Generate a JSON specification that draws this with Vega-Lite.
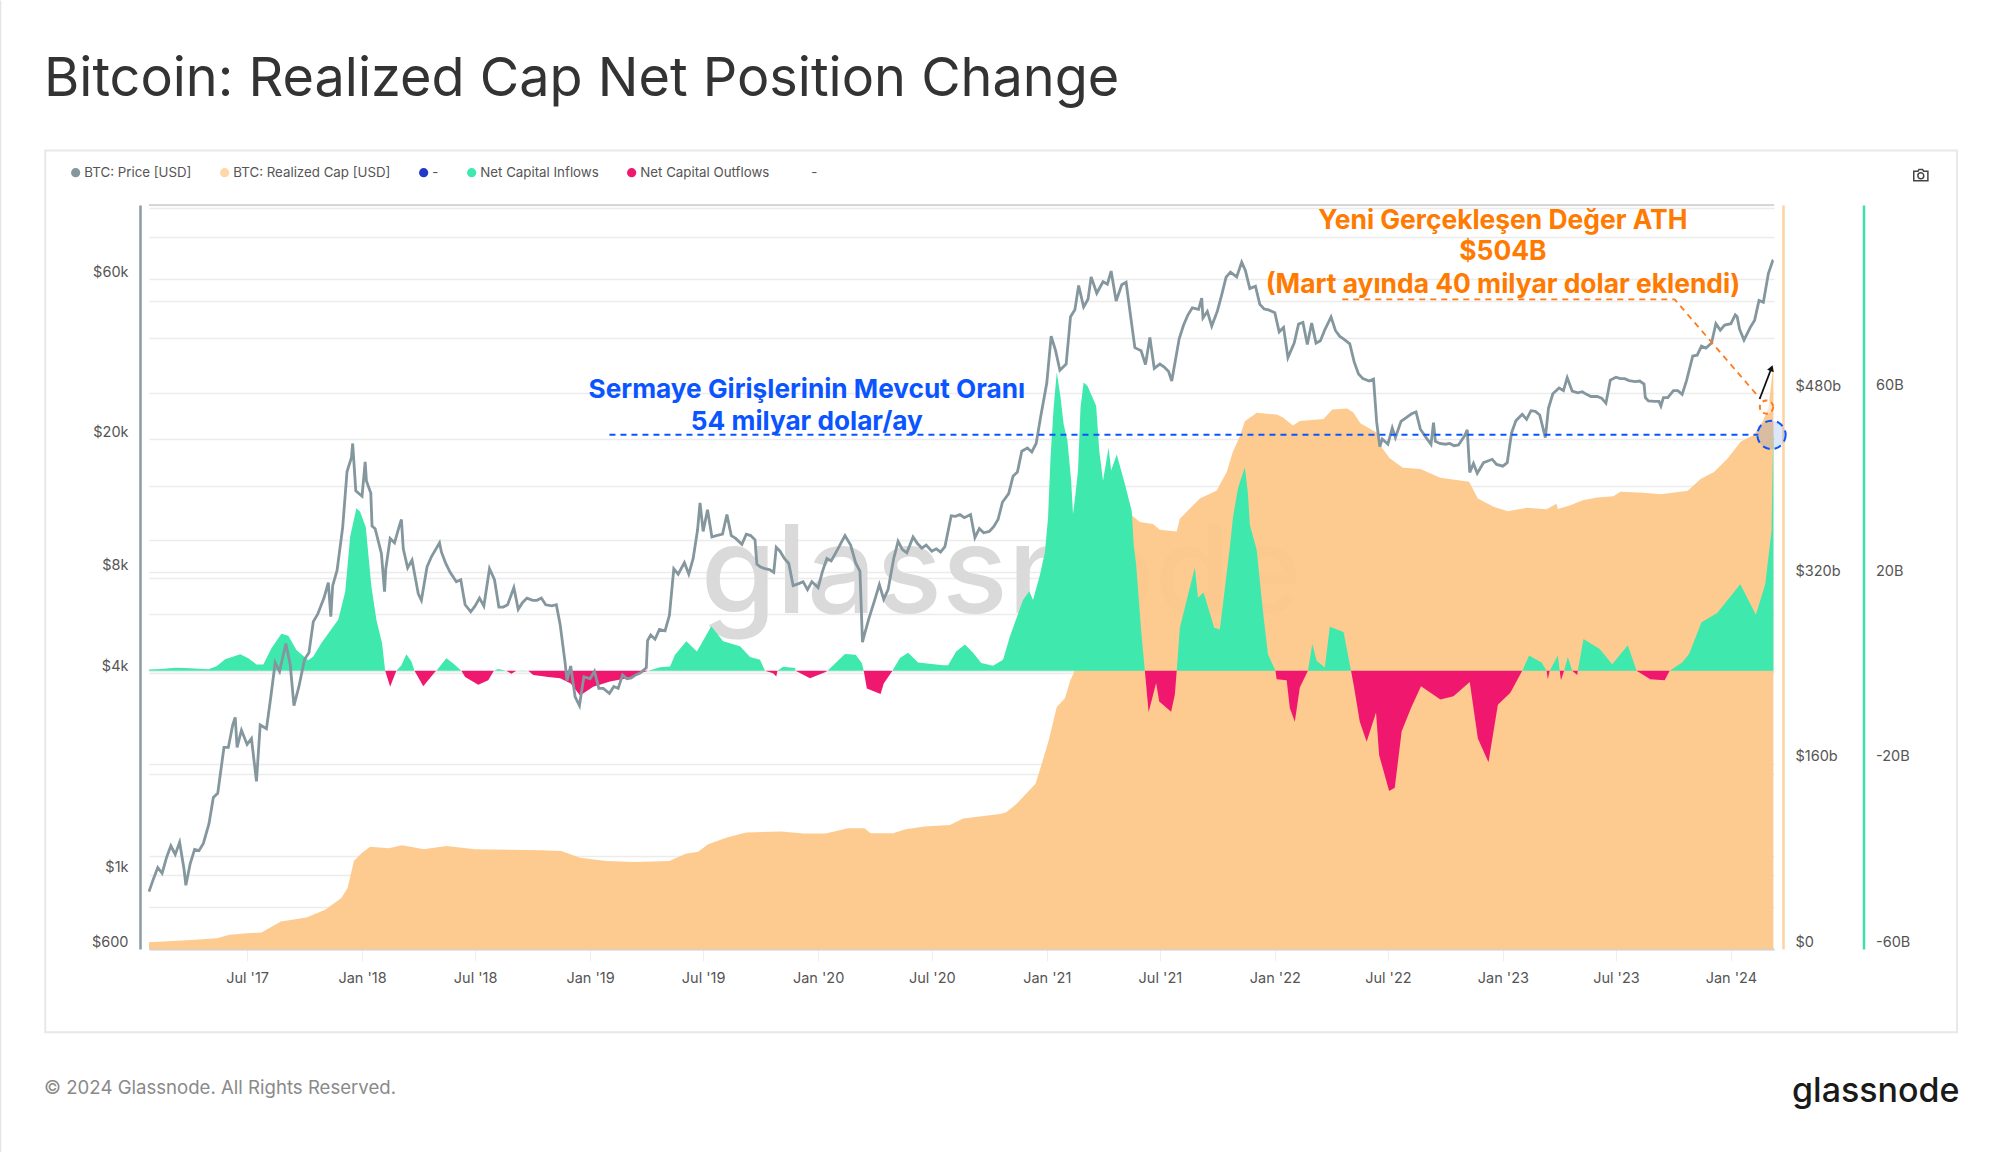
{
"$schema":"https://vega.github.io/schema/vega-lite/v6.json",
"width":1625,"height":744,"autosize":{"type":"none"},
"padding":{"left":149,"top":205,"right":226,"bottom":203},
"background":"#ffffff",
"config":{"font":"Inter","view":{"stroke":null}},
"title":{"text":"Bitcoin: Realized Cap Net Position Change","anchor":"start","frame":"group","dx":-105,"offset":0,"dy":108,"fontSize":54,"fontWeight":400,"color":"#333333","font":"Inter"},
"datasets":{
"price":[
{"d":"2017-01-25","p":890},{"d":"2017-02-01","p":970},{"d":"2017-02-08","p":1050},{"d":"2017-02-15","p":1010},{"d":"2017-02-22","p":1125},{"d":"2017-03-01","p":1220},{"d":"2017-03-08","p":1150},{"d":"2017-03-15","p":1250},{"d":"2017-03-22","p":1040},{"d":"2017-03-25","p":930},{"d":"2017-04-01","p":1080},{"d":"2017-04-08","p":1190},{"d":"2017-04-15","p":1180},{"d":"2017-04-22","p":1240},{"d":"2017-05-01","p":1420},{"d":"2017-05-08","p":1700},{"d":"2017-05-15","p":1750},{"d":"2017-05-25","p":2400},{"d":"2017-06-01","p":2400},{"d":"2017-06-08","p":2800},{"d":"2017-06-12","p":2950},{"d":"2017-06-15","p":2400},{"d":"2017-06-22","p":2700},{"d":"2017-07-01","p":2450},{"d":"2017-07-08","p":2550},{"d":"2017-07-16","p":1900},{"d":"2017-07-22","p":2800},{"d":"2017-08-01","p":2730},{"d":"2017-08-08","p":3400},{"d":"2017-08-15","p":4300},{"d":"2017-08-22","p":4050},{"d":"2017-09-01","p":4900},{"d":"2017-09-08","p":4250},{"d":"2017-09-14","p":3200},{"d":"2017-09-22","p":3650},{"d":"2017-10-01","p":4400},{"d":"2017-10-08","p":4600},{"d":"2017-10-15","p":5700},{"d":"2017-10-22","p":6000},{"d":"2017-11-01","p":6700},{"d":"2017-11-08","p":7450},{"d":"2017-11-12","p":5900},{"d":"2017-11-15","p":7300},{"d":"2017-11-22","p":8100},{"d":"2017-12-01","p":10900},{"d":"2017-12-08","p":16000},{"d":"2017-12-15","p":17600},{"d":"2017-12-17","p":19400},{"d":"2017-12-22","p":14000},
{"d":"2018-01-01","p":13500},{"d":"2018-01-06","p":17100},{"d":"2018-01-08","p":15000},{"d":"2018-01-15","p":13800},{"d":"2018-01-17","p":11000},{"d":"2018-01-22","p":10800},{"d":"2018-02-01","p":9100},{"d":"2018-02-06","p":7000},{"d":"2018-02-08","p":8200},{"d":"2018-02-15","p":10100},{"d":"2018-02-22","p":9800},{"d":"2018-03-01","p":10900},{"d":"2018-03-05","p":11500},{"d":"2018-03-08","p":9400},{"d":"2018-03-15","p":8250},{"d":"2018-03-22","p":8700},{"d":"2018-04-01","p":6900},{"d":"2018-04-06","p":6600},{"d":"2018-04-15","p":8300},{"d":"2018-04-22","p":8900},{"d":"2018-05-05","p":9800},{"d":"2018-05-08","p":9200},{"d":"2018-05-15","p":8500},{"d":"2018-05-22","p":8000},{"d":"2018-06-01","p":7500},{"d":"2018-06-08","p":7600},{"d":"2018-06-15","p":6400},{"d":"2018-06-24","p":6100},{"d":"2018-07-01","p":6350},{"d":"2018-07-08","p":6700},{"d":"2018-07-15","p":6350},{"d":"2018-07-24","p":8200},{"d":"2018-08-01","p":7600},{"d":"2018-08-08","p":6300},{"d":"2018-08-15","p":6300},{"d":"2018-08-22","p":6400},{"d":"2018-09-01","p":7200},{"d":"2018-09-08","p":6200},{"d":"2018-09-15","p":6500},{"d":"2018-09-22","p":6700},{"d":"2018-10-01","p":6600},{"d":"2018-10-08","p":6600},{"d":"2018-10-15","p":6700},{"d":"2018-10-22","p":6400},{"d":"2018-11-01","p":6350},{"d":"2018-11-08","p":6400},{"d":"2018-11-14","p":5600},{"d":"2018-11-22","p":4300},{"d":"2018-11-25","p":3800},{"d":"2018-12-01","p":4200},{"d":"2018-12-08","p":3400},{"d":"2018-12-15","p":3200},{"d":"2018-12-22","p":3900},
{"d":"2019-01-01","p":3850},{"d":"2019-01-08","p":4050},{"d":"2019-01-15","p":3600},{"d":"2019-01-22","p":3600},{"d":"2019-02-01","p":3480},{"d":"2019-02-08","p":3650},{"d":"2019-02-15","p":3600},{"d":"2019-02-22","p":3950},{"d":"2019-03-01","p":3850},{"d":"2019-03-08","p":3870},{"d":"2019-03-15","p":3950},{"d":"2019-03-22","p":4000},{"d":"2019-04-01","p":4150},{"d":"2019-04-03","p":5000},{"d":"2019-04-08","p":5200},{"d":"2019-04-15","p":5050},{"d":"2019-04-22","p":5400},{"d":"2019-05-01","p":5350},{"d":"2019-05-08","p":5950},{"d":"2019-05-15","p":8200},{"d":"2019-05-22","p":7900},{"d":"2019-06-01","p":8550},{"d":"2019-06-08","p":7900},{"d":"2019-06-15","p":8800},{"d":"2019-06-22","p":10700},{"d":"2019-06-26","p":12900},{"d":"2019-07-01","p":10600},{"d":"2019-07-08","p":12300},{"d":"2019-07-15","p":10200},{"d":"2019-07-22","p":10300},{"d":"2019-08-01","p":10400},{"d":"2019-08-08","p":11900},{"d":"2019-08-15","p":10300},{"d":"2019-08-22","p":10100},{"d":"2019-09-01","p":9700},{"d":"2019-09-08","p":10400},{"d":"2019-09-15","p":10300},{"d":"2019-09-22","p":10000},{"d":"2019-09-25","p":8450},{"d":"2019-10-01","p":8300},{"d":"2019-10-08","p":8200},{"d":"2019-10-15","p":8150},{"d":"2019-10-22","p":8000},{"d":"2019-10-26","p":9500},{"d":"2019-11-01","p":9250},{"d":"2019-11-08","p":8800},{"d":"2019-11-15","p":8500},{"d":"2019-11-22","p":7300},{"d":"2019-12-01","p":7400},{"d":"2019-12-08","p":7500},{"d":"2019-12-15","p":7100},{"d":"2019-12-22","p":7500},
{"d":"2020-01-01","p":7200},{"d":"2020-01-08","p":8050},{"d":"2020-01-15","p":8800},{"d":"2020-01-22","p":8650},{"d":"2020-02-01","p":9350},{"d":"2020-02-08","p":9900},{"d":"2020-02-13","p":10300},{"d":"2020-02-22","p":9650},{"d":"2020-03-01","p":8550},{"d":"2020-03-08","p":8050},{"d":"2020-03-12","p":4950},{"d":"2020-03-15","p":5200},{"d":"2020-03-22","p":5800},{"d":"2020-04-01","p":6650},{"d":"2020-04-08","p":7350},{"d":"2020-04-15","p":6650},{"d":"2020-04-22","p":7100},{"d":"2020-05-01","p":8800},{"d":"2020-05-08","p":9900},{"d":"2020-05-15","p":9350},{"d":"2020-05-22","p":9150},{"d":"2020-06-01","p":10200},{"d":"2020-06-08","p":9750},{"d":"2020-06-15","p":9450},{"d":"2020-06-22","p":9650},{"d":"2020-07-01","p":9250},{"d":"2020-07-08","p":9400},{"d":"2020-07-15","p":9200},{"d":"2020-07-22","p":9550},{"d":"2020-08-01","p":11800},{"d":"2020-08-08","p":11750},{"d":"2020-08-15","p":11900},{"d":"2020-08-22","p":11650},{"d":"2020-09-01","p":11900},{"d":"2020-09-08","p":10150},{"d":"2020-09-15","p":10800},{"d":"2020-09-22","p":10500},{"d":"2020-10-01","p":10600},{"d":"2020-10-08","p":10950},{"d":"2020-10-15","p":11500},{"d":"2020-10-22","p":12950},{"d":"2020-11-01","p":13750},{"d":"2020-11-08","p":15500},{"d":"2020-11-15","p":15950},{"d":"2020-11-22","p":18400},{"d":"2020-12-01","p":18800},{"d":"2020-12-08","p":18300},{"d":"2020-12-15","p":19400},{"d":"2020-12-22","p":23200},
{"d":"2021-01-01","p":29400},{"d":"2021-01-08","p":40600},{"d":"2021-01-15","p":36800},{"d":"2021-01-22","p":32100},{"d":"2021-02-01","p":33500},{"d":"2021-02-08","p":46400},{"d":"2021-02-15","p":48700},{"d":"2021-02-21","p":57500},{"d":"2021-03-01","p":49600},{"d":"2021-03-08","p":52300},{"d":"2021-03-13","p":61000},{"d":"2021-03-22","p":54500},{"d":"2021-04-01","p":59000},{"d":"2021-04-08","p":58000},{"d":"2021-04-14","p":63500},{"d":"2021-04-22","p":51700},{"d":"2021-05-01","p":57800},{"d":"2021-05-08","p":58800},{"d":"2021-05-15","p":46800},{"d":"2021-05-22","p":37500},{"d":"2021-06-01","p":36700},{"d":"2021-06-08","p":33400},{"d":"2021-06-15","p":40200},{"d":"2021-06-22","p":32500},{"d":"2021-07-01","p":33500},{"d":"2021-07-08","p":32800},{"d":"2021-07-15","p":31800},{"d":"2021-07-20","p":29800},{"d":"2021-08-01","p":39900},{"d":"2021-08-08","p":43800},{"d":"2021-08-15","p":47000},{"d":"2021-08-22","p":49300},{"d":"2021-09-01","p":48800},{"d":"2021-09-06","p":52700},{"d":"2021-09-08","p":46000},{"d":"2021-09-15","p":48100},{"d":"2021-09-22","p":43500},{"d":"2021-10-01","p":48200},{"d":"2021-10-08","p":53900},{"d":"2021-10-15","p":60900},{"d":"2021-10-22","p":63000},{"d":"2021-11-01","p":61000},{"d":"2021-11-09","p":67500},{"d":"2021-11-15","p":63600},{"d":"2021-11-22","p":56300},{"d":"2021-12-01","p":57200},{"d":"2021-12-08","p":50500},{"d":"2021-12-15","p":48900},{"d":"2021-12-22","p":48600},
{"d":"2022-01-01","p":47700},{"d":"2022-01-08","p":41800},{"d":"2022-01-15","p":43100},{"d":"2022-01-22","p":35000},{"d":"2022-02-01","p":38700},{"d":"2022-02-08","p":44100},{"d":"2022-02-15","p":44600},{"d":"2022-02-22","p":38300},{"d":"2022-03-01","p":44400},{"d":"2022-03-08","p":38700},{"d":"2022-03-15","p":39300},{"d":"2022-03-22","p":42400},{"d":"2022-04-01","p":46300},{"d":"2022-04-08","p":42200},{"d":"2022-04-15","p":40500},{"d":"2022-04-22","p":39700},{"d":"2022-05-01","p":38500},{"d":"2022-05-08","p":34000},{"d":"2022-05-15","p":31300},{"d":"2022-05-22","p":30300},{"d":"2022-06-01","p":29800},{"d":"2022-06-08","p":30200},{"d":"2022-06-13","p":22500},{"d":"2022-06-18","p":19000},{"d":"2022-06-22","p":20000},{"d":"2022-07-01","p":19300},{"d":"2022-07-08","p":21600},{"d":"2022-07-13","p":20200},{"d":"2022-07-22","p":22600},{"d":"2022-08-01","p":23300},{"d":"2022-08-08","p":23800},{"d":"2022-08-15","p":24100},{"d":"2022-08-22","p":21400},{"d":"2022-09-01","p":20100},{"d":"2022-09-08","p":19300},{"d":"2022-09-12","p":22400},{"d":"2022-09-15","p":19700},{"d":"2022-09-22","p":19400},{"d":"2022-10-01","p":19300},{"d":"2022-10-08","p":19400},{"d":"2022-10-15","p":19100},{"d":"2022-10-22","p":19200},{"d":"2022-11-01","p":20500},{"d":"2022-11-05","p":21300},{"d":"2022-11-09","p":15900},{"d":"2022-11-15","p":16900},{"d":"2022-11-21","p":15800},{"d":"2022-12-01","p":17000},{"d":"2022-12-08","p":17200},{"d":"2022-12-15","p":17400},{"d":"2022-12-22","p":16800},
{"d":"2023-01-01","p":16600},{"d":"2023-01-08","p":17000},{"d":"2023-01-15","p":20900},{"d":"2023-01-22","p":22700},{"d":"2023-02-01","p":23700},{"d":"2023-02-08","p":22900},{"d":"2023-02-15","p":24300},{"d":"2023-02-22","p":24200},{"d":"2023-03-01","p":23600},{"d":"2023-03-10","p":20200},{"d":"2023-03-15","p":24700},{"d":"2023-03-22","p":27300},{"d":"2023-04-01","p":28400},{"d":"2023-04-08","p":27900},{"d":"2023-04-14","p":30500},{"d":"2023-04-22","p":27800},{"d":"2023-05-01","p":27500},{"d":"2023-05-08","p":27700},{"d":"2023-05-15","p":27200},{"d":"2023-05-22","p":26800},{"d":"2023-06-01","p":26800},{"d":"2023-06-08","p":26500},{"d":"2023-06-15","p":25600},{"d":"2023-06-22","p":30000},{"d":"2023-07-01","p":30600},{"d":"2023-07-08","p":30300},{"d":"2023-07-15","p":30300},{"d":"2023-07-22","p":29900},{"d":"2023-08-01","p":29700},{"d":"2023-08-08","p":29800},{"d":"2023-08-15","p":29200},{"d":"2023-08-17","p":26600},{"d":"2023-08-22","p":26000},{"d":"2023-09-01","p":25900},{"d":"2023-09-08","p":25900},{"d":"2023-09-11","p":25100},{"d":"2023-09-15","p":26600},{"d":"2023-09-22","p":26600},{"d":"2023-10-01","p":27900},{"d":"2023-10-08","p":27900},{"d":"2023-10-15","p":27200},{"d":"2023-10-22","p":29900},{"d":"2023-11-01","p":35400},{"d":"2023-11-08","p":35600},{"d":"2023-11-15","p":37900},{"d":"2023-11-22","p":37400},{"d":"2023-12-01","p":38700},{"d":"2023-12-08","p":44200},{"d":"2023-12-15","p":42300},{"d":"2023-12-22","p":43800},
{"d":"2024-01-01","p":44200},{"d":"2024-01-08","p":47000},{"d":"2024-01-11","p":46400},{"d":"2024-01-15","p":42500},{"d":"2024-01-22","p":39500},{"d":"2024-02-01","p":43100},{"d":"2024-02-08","p":45300},{"d":"2024-02-15","p":51900},{"d":"2024-02-22","p":51200},{"d":"2024-03-01","p":62400},{"d":"2024-03-08","p":68200},{"d":"2024-03-09","p":68400}
],
"cap":[
{"d":"2017-01-25","c":5.8},{"d":"2017-04-03","c":7.8},{"d":"2017-05-14","c":9.2},{"d":"2017-06-03","c":12.2},{"d":"2017-07-01","c":13.6},{"d":"2017-07-24","c":14.2},{"d":"2017-08-24","c":23.8},{"d":"2017-10-04","c":27.2},{"d":"2017-11-03","c":33.9},{"d":"2017-11-29","c":44.1},{"d":"2017-12-09","c":52.8},{"d":"2017-12-19","c":76},{"d":"2018-01-01","c":83.2},{"d":"2018-01-14","c":88.4},{"d":"2018-02-03","c":87.5},{"d":"2018-02-13","c":87},{"d":"2018-03-06","c":89.6},{"d":"2018-04-10","c":86.1},{"d":"2018-05-16","c":89},{"d":"2018-07-01","c":86.1},{"d":"2018-10-16","c":85.2},{"d":"2018-11-16","c":84.6},{"d":"2018-12-16","c":78.8},{"d":"2019-01-27","c":76},{"d":"2019-03-14","c":75.1},{"d":"2019-05-08","c":76},{"d":"2019-06-03","c":82.3},{"d":"2019-06-23","c":84},{"d":"2019-07-09","c":90.4},{"d":"2019-08-08","c":96.2},{"d":"2019-09-08","c":100.6},{"d":"2019-11-03","c":101.4},{"d":"2019-12-09","c":99.7},{"d":"2020-01-13","c":99.7},{"d":"2020-02-18","c":104.3},{"d":"2020-03-15","c":104.3},{"d":"2020-03-25","c":100},{"d":"2020-04-30","c":100},{"d":"2020-05-20","c":103.5},{"d":"2020-06-19","c":105.8},{"d":"2020-07-30","c":107},{"d":"2020-08-20","c":112.8},{"d":"2020-10-18","c":116.5},{"d":"2020-10-28","c":118},{"d":"2020-11-13","c":125},{"d":"2020-12-14","c":142.6},{"d":"2020-12-24","c":160},{"d":"2021-01-04","c":180},{"d":"2021-01-17","c":209},{"d":"2021-01-30","c":216.5},{"d":"2021-02-08","c":232.5},{"d":"2021-02-13","c":238},{"d":"2021-03-05","c":290},{"d":"2021-03-25","c":330},{"d":"2021-04-20","c":360},{"d":"2021-05-17","c":374.5},{"d":"2021-05-30","c":368.7},{"d":"2021-06-20","c":367},{"d":"2021-07-01","c":362},{"d":"2021-07-28","c":360.6},{"d":"2021-08-02","c":371.6},{"d":"2021-09-03","c":389},{"d":"2021-09-30","c":396},{"d":"2021-10-16","c":412},{"d":"2021-10-26","c":429.6},{"d":"2021-11-06","c":442.6},{"d":"2021-11-14","c":455.7},{"d":"2021-12-03","c":463},{"d":"2022-01-04","c":461.5},{"d":"2022-01-14","c":459},{"d":"2022-01-30","c":452},{"d":"2022-02-10","c":456},{"d":"2022-03-20","c":457.7},{"d":"2022-04-03","c":465.8},{"d":"2022-04-27","c":466.7},{"d":"2022-05-07","c":463},{"d":"2022-05-18","c":454},{"d":"2022-06-14","c":445.5},{"d":"2022-06-22","c":432.5},{"d":"2022-07-04","c":423.8},{"d":"2022-07-25","c":415.7},{"d":"2022-08-22","c":414.5},{"d":"2022-09-23","c":407},{"d":"2022-11-08","c":403.5},{"d":"2022-11-22","c":389},{"d":"2022-12-18","c":381.8},{"d":"2023-01-09","c":378},{"d":"2023-02-08","c":381},{"d":"2023-03-12","c":379.7},{"d":"2023-03-28","c":384.6},{"d":"2023-03-30","c":380},{"d":"2023-04-18","c":383},{"d":"2023-05-09","c":387.5},{"d":"2023-06-01","c":389.9},{"d":"2023-06-27","c":391},{"d":"2023-07-08","c":394.8},{"d":"2023-08-14","c":394},{"d":"2023-09-11","c":392.8},{"d":"2023-10-24","c":395.7},{"d":"2023-11-14","c":406},{"d":"2023-12-05","c":412},{"d":"2023-12-27","c":423.8},{"d":"2024-01-17","c":438.3},{"d":"2024-02-07","c":444},{"d":"2024-02-21","c":455.7},{"d":"2024-03-01","c":467},{"d":"2024-03-09","c":504}
],
"flow":[
{"d":"2017-01-25","i":0.3,"o":0},{"d":"2017-02-14","i":0.4,"o":0},{"d":"2017-03-08","i":0.65,"o":0},{"d":"2017-03-24","i":0.6,"o":0},{"d":"2017-04-30","i":0.35,"o":0},{"d":"2017-05-13","i":1,"o":0},{"d":"2017-05-27","i":2.5,"o":0},{"d":"2017-06-20","i":3.6,"o":0},{"d":"2017-07-03","i":2.7,"o":0},{"d":"2017-07-16","i":1.4,"o":0},{"d":"2017-07-27","i":1.4,"o":0},{"d":"2017-08-09","i":4.9,"o":0},{"d":"2017-08-25","i":8,"o":0},{"d":"2017-09-05","i":7.6,"o":0},{"d":"2017-09-18","i":4.5,"o":0},{"d":"2017-10-07","i":2.3,"o":0},{"d":"2017-10-15","i":3.1,"o":0},{"d":"2017-10-28","i":6,"o":0},{"d":"2017-11-24","i":11.1,"o":0},{"d":"2017-12-05","i":17,"o":0},{"d":"2017-12-13","i":29,"o":0},{"d":"2017-12-23","i":35.1,"o":0},{"d":"2017-12-29","i":34.3,"o":0},{"d":"2018-01-07","i":31,"o":0},{"d":"2018-01-16","i":18.2,"o":0},{"d":"2018-01-24","i":11,"o":0},{"d":"2018-02-02","i":6,"o":0},{"d":"2018-02-07","i":0,"o":0},{"d":"2018-02-15","i":0,"o":-3.4},{"d":"2018-02-23","i":0,"o":-0.6},{"d":"2018-02-25","i":0,"o":0},{"d":"2018-03-05","i":1.2,"o":0},{"d":"2018-03-13","i":3.6,"o":0},{"d":"2018-03-21","i":2,"o":0},{"d":"2018-03-26","i":0,"o":0},{"d":"2018-04-09","i":0,"o":-3.3},{"d":"2018-04-28","i":0,"o":-0.2},{"d":"2018-04-30","i":0,"o":0},{"d":"2018-05-16","i":2.7,"o":0},{"d":"2018-05-27","i":1.6,"o":0},{"d":"2018-06-09","i":0,"o":0},{"d":"2018-06-15","i":0,"o":-1.3},{"d":"2018-07-06","i":0,"o":-3},{"d":"2018-07-22","i":0,"o":-2},{"d":"2018-07-31","i":0,"o":0},{"d":"2018-08-07","i":0.4,"o":0},{"d":"2018-08-20","i":0,"o":0},{"d":"2018-08-28","i":0,"o":-0.6},{"d":"2018-09-05","i":0,"o":0},{"d":"2018-09-15","i":0.1,"o":0},{"d":"2018-09-24","i":0,"o":0},{"d":"2018-10-02","i":0,"o":-0.9},{"d":"2018-10-26","i":0,"o":-1.3},{"d":"2018-11-14","i":0,"o":-1.6},{"d":"2018-12-01","i":0,"o":-2.7},{"d":"2018-12-16","i":0,"o":-5.3},{"d":"2019-01-06","i":0,"o":-3.4},{"d":"2019-02-02","i":0,"o":-2.3},{"d":"2019-03-01","i":0,"o":-1.6},{"d":"2019-03-27","i":0,"o":-0.3},{"d":"2019-04-04","i":0,"o":0},{"d":"2019-04-23","i":0.8,"o":0},{"d":"2019-05-09","i":0.95,"o":0},{"d":"2019-05-17","i":3.5,"o":0},{"d":"2019-06-04","i":6.4,"o":0},{"d":"2019-06-21","i":4.2,"o":0},{"d":"2019-07-14","i":9.6,"o":0},{"d":"2019-08-02","i":6.4,"o":0},{"d":"2019-08-29","i":5.3,"o":0},{"d":"2019-09-14","i":3,"o":0},{"d":"2019-09-30","i":2.4,"o":0},{"d":"2019-10-08","i":0,"o":0},{"d":"2019-10-21","i":0,"o":-0.5},{"d":"2019-10-26","i":0,"o":-1.2},{"d":"2019-10-28","i":0,"o":0},{"d":"2019-11-06","i":0.9,"o":0},{"d":"2019-11-25","i":0.6,"o":0},{"d":"2019-11-26","i":0,"o":0},{"d":"2019-12-19","i":0,"o":-1.6},{"d":"2020-01-12","i":0,"o":-0.3},{"d":"2020-01-16","i":0,"o":0},{"d":"2020-02-13","i":3.65,"o":0},{"d":"2020-03-01","i":3.5,"o":0},{"d":"2020-03-11","i":1.7,"o":0},{"d":"2020-03-14","i":0,"o":0},{"d":"2020-03-19","i":0,"o":-3.8},{"d":"2020-04-10","i":0,"o":-5},{"d":"2020-04-15","i":0,"o":-2.7},{"d":"2020-04-29","i":0,"o":0},{"d":"2020-05-11","i":2.8,"o":0},{"d":"2020-05-24","i":3.9,"o":0},{"d":"2020-06-09","i":1.8,"o":0},{"d":"2020-07-19","i":1.2,"o":0},{"d":"2020-07-27","i":1.2,"o":0},{"d":"2020-08-09","i":4.2,"o":0},{"d":"2020-08-23","i":5.7,"o":0},{"d":"2020-09-05","i":3.9,"o":0},{"d":"2020-09-18","i":1.7,"o":0},{"d":"2020-10-07","i":1.1,"o":0},{"d":"2020-10-23","i":2.4,"o":0},{"d":"2020-11-03","i":7.4,"o":0},{"d":"2020-11-24","i":15.3,"o":0},{"d":"2020-12-04","i":17.2,"o":0},{"d":"2020-12-10","i":15.3,"o":0},{"d":"2020-12-21","i":20.7,"o":0},{"d":"2020-12-29","i":25.6,"o":0},{"d":"2021-01-03","i":33,"o":0},{"d":"2021-01-07","i":46,"o":0},{"d":"2021-01-12","i":56.8,"o":0},{"d":"2021-01-17","i":64.4,"o":0},{"d":"2021-01-23","i":59,"o":0},{"d":"2021-01-28","i":53.2,"o":0},{"d":"2021-02-03","i":49.7,"o":0},{"d":"2021-02-09","i":41,"o":0},{"d":"2021-02-12","i":33.8,"o":0},{"d":"2021-02-16","i":38.2,"o":0},{"d":"2021-02-20","i":43.2,"o":0},{"d":"2021-02-24","i":56.8,"o":0},{"d":"2021-03-01","i":62.2,"o":0},{"d":"2021-03-07","i":61.5,"o":0},{"d":"2021-03-21","i":57.2,"o":0},{"d":"2021-03-26","i":47.5,"o":0},{"d":"2021-04-01","i":41,"o":0},{"d":"2021-04-10","i":48.2,"o":0},{"d":"2021-04-14","i":43.2,"o":0},{"d":"2021-04-23","i":46.7,"o":0},{"d":"2021-05-06","i":40.3,"o":0},{"d":"2021-05-17","i":34.5,"o":0},{"d":"2021-05-20","i":27.3,"o":0},{"d":"2021-05-24","i":23,"o":0},{"d":"2021-06-01","i":8.7,"o":0},{"d":"2021-06-07","i":0,"o":0},{"d":"2021-06-13","i":0,"o":-8.9},{"d":"2021-06-25","i":0,"o":-2.6},{"d":"2021-06-30","i":0,"o":-6.6},{"d":"2021-07-19","i":0,"o":-8.8},{"d":"2021-07-25","i":0,"o":-5.1},{"d":"2021-07-28","i":0,"o":0},{"d":"2021-08-02","i":9.3,"o":0},{"d":"2021-08-26","i":22.3,"o":0},{"d":"2021-08-31","i":15.8,"o":0},{"d":"2021-09-09","i":16.9,"o":0},{"d":"2021-09-26","i":9.3,"o":0},{"d":"2021-10-05","i":8.9,"o":0},{"d":"2021-10-21","i":26.6,"o":0},{"d":"2021-10-26","i":33.1,"o":0},{"d":"2021-11-03","i":39.4,"o":0},{"d":"2021-11-14","i":43.9,"o":0},{"d":"2021-11-19","i":38.2,"o":0},{"d":"2021-11-22","i":31.5,"o":0},{"d":"2021-12-03","i":26.1,"o":0},{"d":"2021-12-13","i":12.8,"o":0},{"d":"2021-12-21","i":3.6,"o":0},{"d":"2022-01-02","i":0,"o":0},{"d":"2022-01-04","i":0,"o":-1.8},{"d":"2022-01-20","i":0,"o":-2},{"d":"2022-01-25","i":0,"o":-8},{"d":"2022-02-02","i":0,"o":-11},{"d":"2022-02-10","i":0,"o":-3.6},{"d":"2022-02-23","i":0,"o":0},{"d":"2022-03-02","i":5.8,"o":0},{"d":"2022-03-09","i":2.2,"o":0},{"d":"2022-03-22","i":0.7,"o":0},{"d":"2022-03-30","i":9.5,"o":0},{"d":"2022-04-21","i":8.4,"o":0},{"d":"2022-05-03","i":0,"o":0},{"d":"2022-05-08","i":0,"o":-3.65},{"d":"2022-05-17","i":0,"o":-11},{"d":"2022-05-28","i":0,"o":-15.3},{"d":"2022-06-12","i":0,"o":-9},{"d":"2022-06-17","i":0,"o":-18.2},{"d":"2022-07-03","i":0,"o":-25.9},{"d":"2022-07-12","i":0,"o":-25.2},{"d":"2022-07-23","i":0,"o":-13.1},{"d":"2022-08-07","i":0,"o":-8},{"d":"2022-08-23","i":0,"o":-3.3},{"d":"2022-09-23","i":0,"o":-6.2},{"d":"2022-10-14","i":0,"o":-5.5},{"d":"2022-11-09","i":0,"o":-2.4},{"d":"2022-11-22","i":0,"o":-14.6},{"d":"2022-12-09","i":0,"o":-19.7},{"d":"2022-12-24","i":0,"o":-7.3},{"d":"2023-01-13","i":0,"o":-4.7},{"d":"2023-02-01","i":0,"o":0},{"d":"2023-02-12","i":3.3,"o":0},{"d":"2023-03-04","i":1.8,"o":0},{"d":"2023-03-12","i":0,"o":0},{"d":"2023-03-14","i":0,"o":-1.8},{"d":"2023-03-17","i":0,"o":0},{"d":"2023-03-30","i":3.3,"o":0},{"d":"2023-04-02","i":0,"o":0},{"d":"2023-04-04","i":0,"o":-2},{"d":"2023-04-09","i":0,"o":0},{"d":"2023-04-15","i":3,"o":0},{"d":"2023-04-22","i":0,"o":0},{"d":"2023-04-30","i":0,"o":-0.9},{"d":"2023-05-01","i":0,"o":0},{"d":"2023-05-10","i":6.9,"o":0},{"d":"2023-06-05","i":4.7,"o":0},{"d":"2023-06-25","i":1.45,"o":0},{"d":"2023-07-20","i":5.5,"o":0},{"d":"2023-08-03","i":0,"o":0},{"d":"2023-08-25","i":0,"o":-1.8},{"d":"2023-09-17","i":0,"o":-2},{"d":"2023-09-25","i":0,"o":0},{"d":"2023-10-15","i":1.8,"o":0},{"d":"2023-10-26","i":3.65,"o":0},{"d":"2023-11-15","i":10.5,"o":0},{"d":"2023-12-10","i":12.5,"o":0},{"d":"2024-01-16","i":18.7,"o":0},{"d":"2024-02-10","i":12.1,"o":0},{"d":"2024-02-25","i":18.7,"o":0},{"d":"2024-03-06","i":30.2,"o":0},{"d":"2024-03-09","i":53,"o":0}
]
},
"layer":[
{"data":{"values":[{"d":"2019-06-27","v":290,"t":"glassnode"}]},
 "mark":{"type":"text","align":"left","baseline":"alphabetic","fontSize":122,"fontWeight":500,"color":"#dadada","font":"Inter"},
 "encoding":{"x":{"field":"d","type":"temporal","title":null,
   "scale":{"domain":["2017-01-25","2024-03-10"],"nice":false},
   "axis":{"format":"%b '%y","tickCount":{"interval":"month","step":6},"grid":false,"labelFontSize":14.5,"labelColor":"#555555","labelPadding":10,"labelOverlap":false,"labelFlush":false,"tickSize":12,"tickColor":"#eeeeee","tickWidth":1,"domainColor":"#d3d3d3","domainWidth":2,"title":null}},
  "y":{"field":"v","type":"quantitative","scale":{"domain":[0,642.5],"nice":false,"zero":false},"axis":null},
  "text":{"field":"t"}}},
{"data":{"name":"cap"},
 "mark":{"type":"area","color":"#fdc88a","opacity":0.95},
 "encoding":{"x":{"field":"d","type":"temporal"},
  "y":{"field":"c","type":"quantitative","stack":null,"scale":{"domain":[0,642.5],"nice":false,"zero":false},
   "axis":{"orient":"right","offset":9,"values":[0,80,160,240,320,400,480,560,640],"labelExpr":"datum.value==0?'$0':datum.value==160?'$160b':datum.value==320?'$320b':datum.value==480?'$480b':''","grid":true,"gridColor":"#ececec","gridWidth":1.5,"ticks":false,"labelPadding":12,"labelOffset":-7,"labelFontSize":14.5,"labelColor":"#555555","domainColor":"#fdd3a3","domainWidth":2.5,"title":null,"labelOverlap":false}}}},
{"data":{"name":"flow"},
 "mark":{"type":"area","color":"#3fe8ad"},
 "encoding":{"x":{"field":"d","type":"temporal"},
  "y":{"field":"i","type":"quantitative","stack":null,"scale":{"domain":[-60,100.5],"nice":false,"zero":false},
   "axis":{"orient":"right","offset":89.5,"values":[60,20,-20,-60],"labelExpr":"datum.value==60?'60B':datum.value==20?'20B':datum.value==-20?'-20B':'-60B'","grid":false,"ticks":false,"labelPadding":12,"labelOffset":-7,"labelFontSize":14.5,"labelColor":"#555555","domainColor":"#3fe0aa","domainWidth":2.5,"title":null,"labelOverlap":false}}}},
{"data":{"name":"flow"},
 "mark":{"type":"area","color":"#f0186e"},
 "encoding":{"x":{"field":"d","type":"temporal"},
  "y":{"field":"o","type":"quantitative","stack":null,"scale":{"domain":[-60,100.5],"nice":false,"zero":false},"axis":null}}},
{"data":{"name":"price"},
 "mark":{"type":"line","color":"#84969e","strokeWidth":2.8},
 "encoding":{"x":{"field":"d","type":"temporal"},
  "y":{"field":"p","type":"quantitative","scale":{"type":"log","domain":[600,100000],"nice":false},
   "axis":{"orient":"left","offset":9,"values":[100000,80000,60000,40000,20000,10000,8000,6000,4000,2000,1000,800,600],"labelExpr":"datum.value==60000?'$60k':datum.value==20000?'$20k':datum.value==8000?'$8k':datum.value==4000?'$4k':datum.value==1000?'$1k':datum.value==600?'$600':''","grid":true,"gridColor":"#ececec","gridWidth":1.5,"ticks":false,"labelPadding":12,"labelOffset":-7,"labelFontSize":14.5,"labelColor":"#555555","domainColor":"#8a9ba3","domainWidth":2.5,"title":null,"labelOverlap":false}}}},
{"encoding":{"x":{"field":"d","type":"temporal"},"y":{"field":"v","type":"quantitative","scale":{"domain":[0,642.5],"nice":false,"zero":false},"axis":null}},
 "layer":[
  {"data":{"values":[{"d":"2017-01-25","v":642.5},{"d":"2024-03-10","v":642.5}]},"mark":{"type":"line","color":"#d6d6d6","strokeWidth":2}},
  {"data":{"values":[{"d":"2019-02-01","v":444},{"d":"2024-02-14","v":444}]},"mark":{"type":"line","color":"#0a55ff","strokeWidth":2,"strokeDash":[6,5]}},
  {"data":{"values":[{"d":"2022-04-19","v":561},{"d":"2023-10-03","v":561},{"d":"2024-02-16","v":475.8}]},"mark":{"type":"line","color":"#ff7a1a","strokeWidth":1.8,"strokeDash":[6,5]}},
  {"data":{"values":[{"d":"2024-03-06","v":444}]},"mark":{"type":"point","shape":"circle","size":804,"filled":true,"fill":"#3b78f0","fillOpacity":0.18,"stroke":"#0a55ff","strokeOpacity":1,"strokeWidth":2,"strokeDash":[7,5],"opacity":1}},
  {"data":{"values":[{"d":"2024-02-27","v":468}]},"mark":{"type":"point","shape":"circle","size":177,"filled":true,"fill":"#ffffff","fillOpacity":0.55,"stroke":"#ff7a1a","strokeOpacity":1,"strokeWidth":2,"strokeDash":[5,4],"opacity":1}},
  {"data":{"values":[{"d":"2024-02-16","v":475},{"d":"2024-03-06","v":501.7}]},"mark":{"type":"line","color":"#111111","strokeWidth":1.8}},
  {"data":{"values":[{"d":"2024-03-06","v":501.7}]},"mark":{"type":"point","shape":"triangle-up","size":50,"filled":true,"color":"#111111","opacity":1,"angle":20}},
  {"data":{"values":[{"d":"2023-01-01","v":629,"t":"Yeni Gerçekleşen Değer ATH"},{"d":"2023-01-01","v":601.5,"t":"$504B"},{"d":"2023-01-01","v":573.7,"t":"(Mart ayında 40 milyar dolar eklendi)"}]},"mark":{"type":"text","align":"center","baseline":"middle","fontSize":26.4,"fontWeight":700,"color":"#ff7a00","font":"Inter"},"encoding":{"text":{"field":"t"}}},
  {"data":{"values":[{"d":"2019-12-14","v":483,"t":"Sermaye Girişlerinin Mevcut Oranı"},{"d":"2019-12-14","v":455.5,"t":"54 milyar dolar/ay"}]},"mark":{"type":"text","align":"center","baseline":"middle","fontSize":26.2,"fontWeight":700,"color":"#0a55ff","font":"Inter"},"encoding":{"text":{"field":"t"}}},
  {"data":{"values":[{"d":"2016-08-12","v":689.5,"d2":"2024-12-28","v2":-71.8}]},"mark":{"type":"rect","fill":null,"fillOpacity":0,"stroke":"#e8e8e8","strokeWidth":2,"clip":false},"encoding":{"x2":{"field":"d2"},"y2":{"field":"v2"}}},
  {"data":{"values":[{"d":"2016-06-01","v":819.2,"v2":-175.5}]},"mark":{"type":"rule","color":"#e5e5e5","strokeWidth":2},"encoding":{"y2":{"field":"v2"}}},
  {"data":{"values":[{"d":"2016-08-10","v":-120,"t":"© 2024 Glassnode. All Rights Reserved."}]},"mark":{"type":"text","align":"left","baseline":"middle","fontSize":18.6,"color":"#8a8a8a","font":"Inter"},"encoding":{"text":{"field":"t"}}},
  {"data":{"values":[{"d":"2025-01-01","v":-132.2,"t":"glassnode"}]},"mark":{"type":"text","align":"right","baseline":"alphabetic","fontSize":34,"fontWeight":500,"color":"#1a1a1a","font":"Inter"},"encoding":{"text":{"field":"t"}}},
  {"data":{"values":[{"d":"2024-10-31","v":668}]},"mark":{"type":"point","filled":false,"opacity":1,"stroke":"#444444","strokeWidth":1.5,"size":200,"shape":"M-1,-0.6 L-0.4,-0.6 L-0.25,-0.85 L0.25,-0.85 L0.4,-0.6 L1,-0.6 L1,0.75 L-1,0.75 Z M0.42,0.05 A0.42,0.42 0 1 1 -0.42,0.05 A0.42,0.42 0 1 1 0.42,0.05"}}
 ]},
{"data":{"values":[{"s":"BTC: Price [USD]"},{"s":"BTC: Realized Cap [USD]"},{"s":"-"},{"s":"Net Capital Inflows"},{"s":"Net Capital Outflows"},{"s":" -"}]},
 "mark":{"type":"point","filled":true,"opacity":0},
 "encoding":{"color":{"field":"s","type":"nominal","sort":null,
   "scale":{"domain":["BTC: Price [USD]","BTC: Realized Cap [USD]","-","Net Capital Inflows","Net Capital Outflows"," -"],"range":["#84969e","#ffd7a8","#2438c8","#3fe8ad","#f0186e","#ffffff"]},
   "legend":{"orient":"none","legendX":-80,"legendY":-39,"direction":"horizontal","columns":6,"gridAlign":"none","columnPadding":26,"symbolType":"circle","symbolSize":85,"symbolOpacity":1,"symbolStrokeWidth":0,"title":null,"labelFont":"Inter","labelFontSize":13.3,"labelColor":"#555555","labelOffset":2,"padding":0}}}}
],
"resolve":{"scale":{"y":"independent"},"axis":{"y":"independent"}}
}
